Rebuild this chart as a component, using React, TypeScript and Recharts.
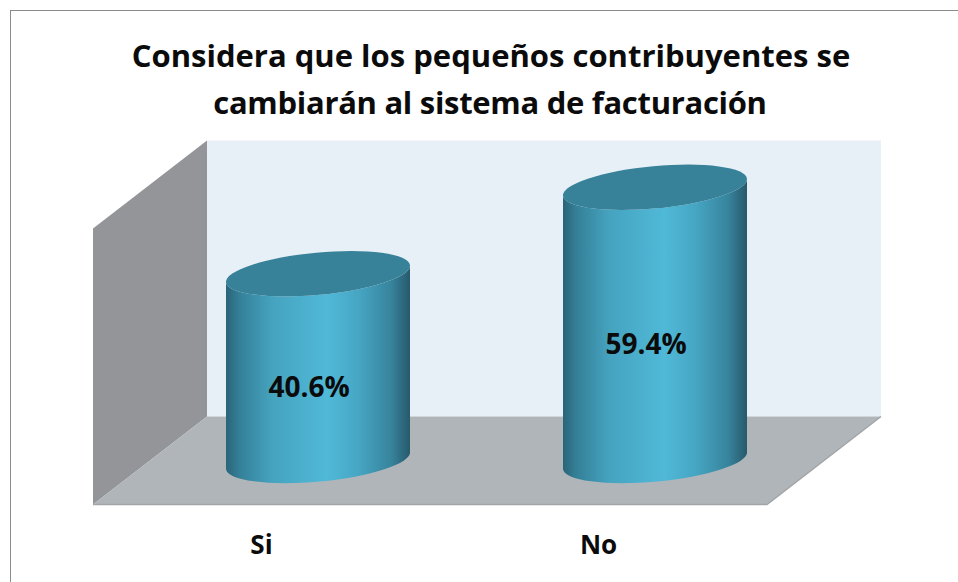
import React from 'react';
import { BarChart, Bar, XAxis, YAxis, LabelList, usePlotArea } from 'recharts';

const categories = ['Si', 'No'];
const values = [40.6, 59.4];
const titleLines = ['Considera que los pequeños contribuyentes se', 'cambiarán al sistema de facturación'];
const data = categories.map((name, i) => ({ name, value: values[i] }));

const FONT = '"Open Sans", sans-serif';
const DX = 57;
const DY = 44;

function Walls() {
  const p = usePlotArea();
  if (!p) return null;
  const l = p.x, r = p.x + p.width, t = p.y, b = p.y + p.height;
  return (
    <g>
      <polygon points={`${l + DX},${t - DY} ${r + DX},${t - DY} ${r + DX},${b - DY} ${l + DX},${b - DY}`} fill="#e8f0f7" />
      <polygon points={`${l - DX},${t + DY} ${l + DX},${t - DY} ${l + DX},${b - DY} ${l - DX},${b + DY}`} fill="#939598" />
      <polygon points={`${l - DX},${b + DY} ${l + DX},${b - DY} ${r + DX},${b - DY} ${r - DX},${b + DY}`} fill="#b0b5b9" />
      <path d={`M${l - DX},${b + DY} H${r - DX} L${r + DX},${b - DY}`} fill="none" stroke="#a2a5a8" strokeWidth={1.5} />
    </g>
  );
}

function Cylinder(props: any) {
  const { x, y, width, height } = props;
  const a = width / 2;
  const cx = x + a - 1;
  const lift = 8.5;
  const rot = -5.3;
  const b = 21;
  const topC = y;
  const botC = y + height;
  const side = `M${cx - a},${topC + lift} A${a},${b} ${rot} 0 0 ${cx + a},${topC - lift} L${cx + a},${botC - lift} A${a},${b} ${rot} 0 1 ${cx - a},${botC + lift} Z`;
  return (
    <g>
      <path d={side} fill="url(#cylBody)" />
      <path d={`M${cx - a},${topC + lift} A${a},${b} ${rot} 1 1 ${cx + a},${topC - lift} A${a},${b} ${rot} 1 1 ${cx - a},${topC + lift} Z`} fill="#378299" />
    </g>
  );
}

function ChartTitle() {
  return (
    <text textAnchor="middle" fontFamily={FONT} fontWeight={700} fontSize={31} fill="#0b0b0b">
      <tspan x={491} y={67}>{titleLines[0]}</tspan>
      <tspan x={490} y={114} letterSpacing={-0.3}>{titleLines[1]}</tspan>
    </text>
  );
}

function ValueLabel(props: any) {
  const { x, y, width, height, value } = props;
  return (
    <text
      x={x + width / 2 - 10}
      y={y + height / 2 + 30}
      textAnchor="middle"
      fontFamily={FONT}
      fontWeight={700}
      fontSize={28}
      fill="#0b0b0b"
    >
      {`${Number(value).toFixed(1)}%`}
    </text>
  );
}

export default function App() {
  return (
    <div style={{ position: 'absolute', left: 0, top: 0, width: 958, height: 582, background: '#fff', overflow: 'hidden' }}>
      <div style={{ position: 'absolute', left: 10, top: 10, width: 960, height: 600, border: '1.5px solid #8c8c8c', boxSizing: 'border-box' }} />
      <BarChart
        width={958}
        height={582}
        data={data}
        margin={{ left: 150, right: 134, top: 184.5, bottom: 0 }}
        barSize={184}
        style={{ position: 'absolute', left: 0, top: 0 }}
      >
        <defs>
          <linearGradient id="cylBody" x1="0" y1="0" x2="1" y2="0">
            <stop offset="0" stopColor="#2a6478" />
            <stop offset="0.07" stopColor="#347f97" />
            <stop offset="0.25" stopColor="#45a3bf" />
            <stop offset="0.55" stopColor="#50b9d8" />
            <stop offset="0.72" stopColor="#46a6c3" />
            <stop offset="0.9" stopColor="#37839c" />
            <stop offset="1" stopColor="#27596b" />
          </linearGradient>
        </defs>
        <Walls />
        <ChartTitle />
        <XAxis
          dataKey="name"
          axisLine={false}
          tickLine={false}
          height={121.5}
          tick={{ fontFamily: FONT, fontWeight: 700, fontSize: 26, fill: '#0b0b0b', dx: -57, dy: 67 }}
        />
        <YAxis hide domain={[0, 60]} />
        <Bar dataKey="value" isAnimationActive={false} shape={<Cylinder />}>
          <LabelList dataKey="value" content={<ValueLabel />} />
        </Bar>
      </BarChart>
    </div>
  );
}
